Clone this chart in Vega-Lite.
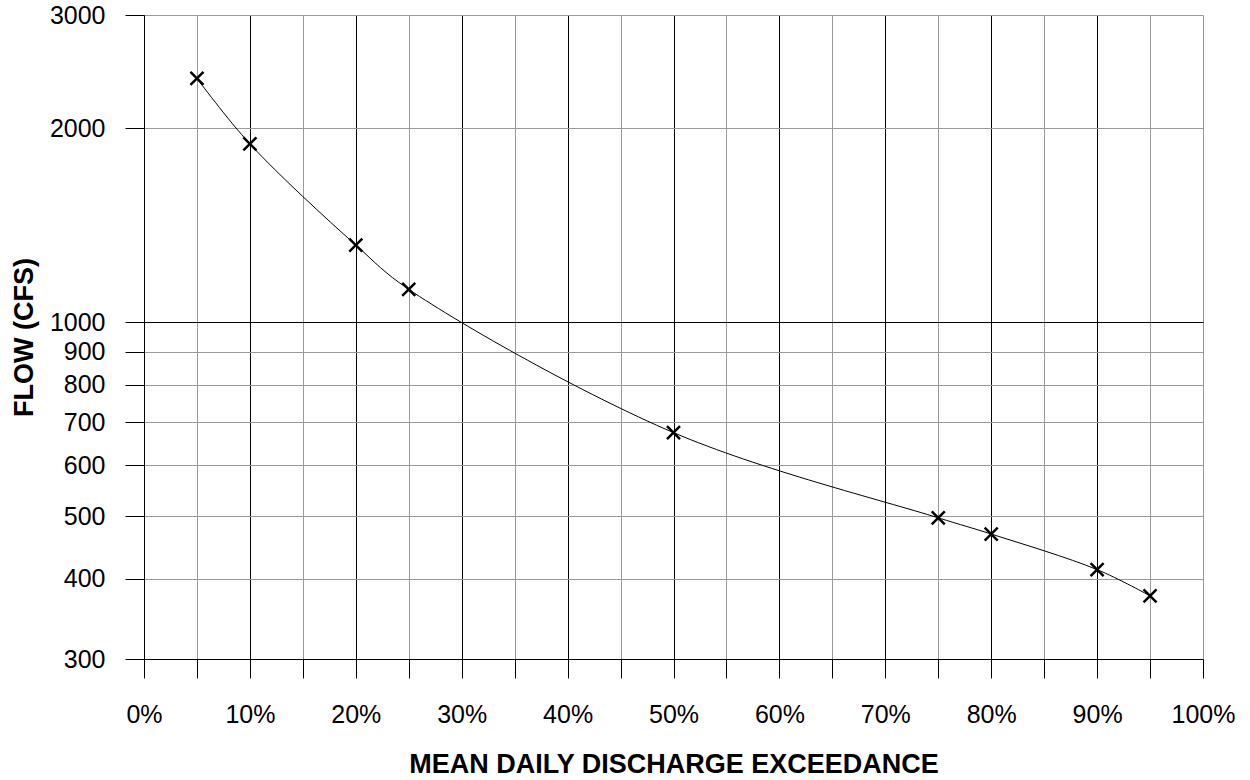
{
  "$schema": "https://vega.github.io/schema/vega-lite/v6.json",
  "width": 1059,
  "height": 644,
  "autosize": {"type": "none"},
  "padding": {"left": 144, "top": 15, "right": 47, "bottom": 121},
  "background": "white",
  "config": {"view": {"stroke": null}, "font": "Liberation Sans"},
  "data": {
    "values": [
      {"exceedance": 0.05, "flow": 2392},
      {"exceedance": 0.10, "flow": 1892},
      {"exceedance": 0.20, "flow": 1318},
      {"exceedance": 0.25, "flow": 1125},
      {"exceedance": 0.50, "flow": 674},
      {"exceedance": 0.75, "flow": 497},
      {"exceedance": 0.80, "flow": 469},
      {"exceedance": 0.90, "flow": 413},
      {"exceedance": 0.95, "flow": 376}
    ]
  },
  "encoding": {
    "x": {
      "field": "exceedance",
      "type": "quantitative",
      "scale": {"domain": [0, 1], "nice": false, "zero": false},
      "axis": {
        "values": [0, 0.05, 0.1, 0.15, 0.2, 0.25, 0.3, 0.35, 0.4, 0.45, 0.5, 0.55, 0.6, 0.65, 0.7, 0.75, 0.8, 0.85, 0.9, 0.95, 1],
        "format": ".0%",
        "labelExpr": "round(datum.value * 100) % 10 == 0 ? datum.label : ''",
        "title": "MEAN DAILY DISCHARGE EXCEEDANCE",
        "titleFont": "Liberation Sans",
        "titleFontSize": 27,
        "titleFontWeight": "bold",
        "titleColor": "black",
        "titlePadding": 24,
        "labelFont": "Liberation Sans",
        "labelFontSize": 25,
        "labelColor": "black",
        "labelPadding": 24,
        "labelOverlap": false,
        "labelFlush": false,
        "tickSize": 19,
        "tickColor": "black",
        "tickWidth": 1,
        "domainColor": "black",
        "domainWidth": 1,
        "grid": true,
        "gridWidth": 1,
        "gridOpacity": 1,
        "gridColor": {
          "condition": {"test": "round(datum.value * 100) % 10 == 0 && datum.value < 0.999", "value": "black"},
          "value": "#9a9a9a"
        }
      }
    },
    "y": {
      "field": "flow",
      "type": "quantitative",
      "scale": {"type": "log", "domain": [300, 3000], "nice": false},
      "axis": {
        "values": [300, 400, 500, 600, 700, 800, 900, 1000, 2000, 3000],
        "format": "d",
        "title": "FLOW (CFS)",
        "titleFont": "Liberation Sans",
        "titleFontSize": 27,
        "titleFontWeight": "bold",
        "titleColor": "black",
        "titlePadding": 11,
        "labelFont": "Liberation Sans",
        "labelFontSize": 25,
        "labelColor": "black",
        "labelPadding": 20,
        "labelOverlap": false,
        "labelFlush": false,
        "tickSize": 19,
        "tickColor": "black",
        "tickWidth": 1,
        "domainColor": "black",
        "domainWidth": 1,
        "grid": true,
        "gridWidth": 1,
        "gridOpacity": 1,
        "gridColor": {
          "condition": {"test": "datum.value == 1000", "value": "black"},
          "value": "#9a9a9a"
        }
      }
    }
  },
  "layer": [
    {"mark": {"type": "line", "interpolate": "catmull-rom", "color": "black", "strokeWidth": 1}},
    {"mark": {"type": "point", "shape": "M-1,-1L1,1M1,-1L-1,1", "filled": false, "stroke": "black", "strokeWidth": 2.5, "size": 170, "opacity": 1}}
  ]
}
